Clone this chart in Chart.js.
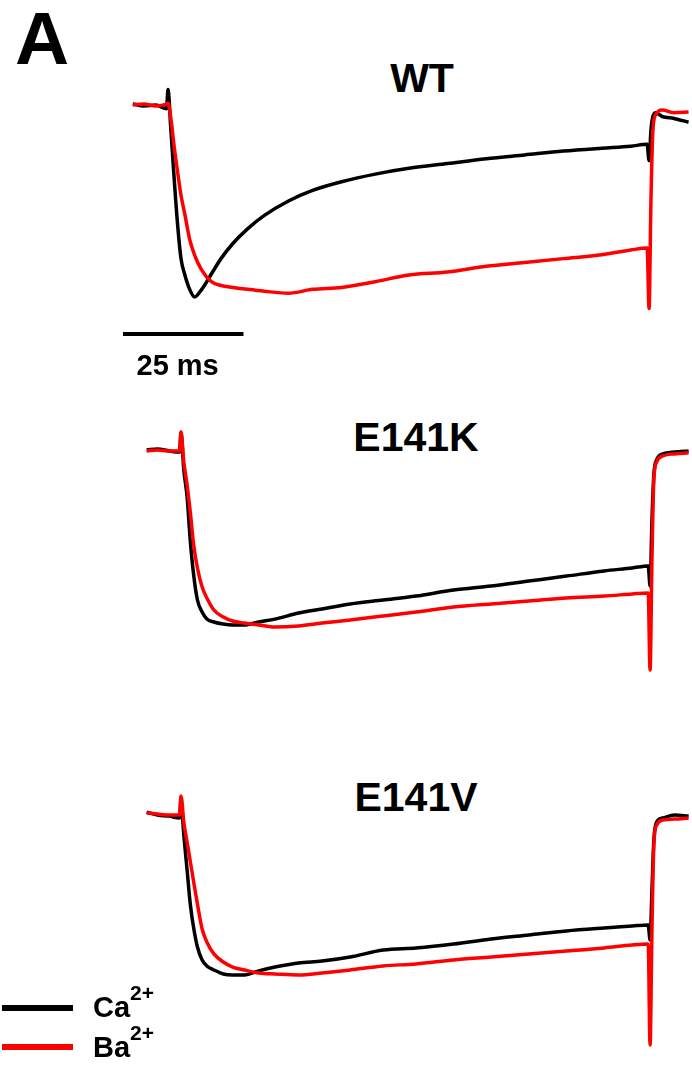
<!DOCTYPE html>
<html>
<head>
<meta charset="utf-8">
<script src="https://cdn.jsdelivr.net/npm/chart.js@4/dist/chart.umd.min.js"></script>
<style>
  body { margin: 0; background: #fff; }
  #page { position: relative; width: 692px; height: 1066px; overflow: hidden; font-family: Arial, 'Liberation Sans', sans-serif; font-weight: bold; }
  canvas { position: absolute; }
  .lbl { position: absolute; line-height: 1; white-space: nowrap; color: #000; }
  .title { font-size: 41px; transform: translateX(-50%); }
  .key { position: absolute; left: 2px; width: 71px; height: 6px; }
  .keytxt { position: absolute; left: 93px; font-size: 29px; line-height: 1; }
  .keytxt sup { font-size: 21px; vertical-align: 0; position: relative; top: -17px; }
</style>
</head>
<body>
<div id="page">
  <div class="lbl" style="left:15px;top:1px;font-size:75px;">A</div>
  <div class="lbl title" style="left:422px;top:58px;">WT</div>
  <div class="lbl title" style="left:416px;top:417px;">E141K</div>
  <div class="lbl title" style="left:416px;top:777px;">E141V</div>

  <canvas id="wt" width="582" height="310" style="left:110px;top:80px;"></canvas>
  <canvas id="k" width="552" height="270" style="left:140px;top:420px;"></canvas>
  <canvas id="v" width="552" height="280" style="left:140px;top:780px;"></canvas>

  <div class="key" style="top:1005px;background:#000;"></div>
  <div class="keytxt" style="top:993px;">Ca<sup>2+</sup></div>
  <div class="key" style="top:1044px;background:#f00;"></div>
  <div class="keytxt" style="top:1033px;">Ba<sup>2+</sup></div>
</div>
<script>
// time in ms, 0 = start of the test pulse (pulse is 100 ms)
const timeMs = [-7.3, -5, -2.5, -0.3, 0, 0.6, 1.3, 2, 2.7, 3.5, 4.5, 5.5, 7, 9, 11, 13.5, 16.5, 20, 25, 30,
  36, 43, 50, 58, 66, 74, 82, 90, 96, 99.4, 99.8, 100.2, 100.6, 101.2, 102.5, 105, 108]

// normalized current (peak Ca2+ current = -1)
const wtCa = [0.005, -0.005, 0, -0.02, 0.08, -0.13, -0.39, -0.625, -0.8, -0.885, -0.96, -1.0, -0.96, -0.88, -0.8, -0.72, -0.645, -0.575, -0.5, -0.445,
  -0.4, -0.36, -0.33, -0.305, -0.28, -0.26, -0.24, -0.225, -0.215, -0.205, -0.29, -0.13, -0.06, -0.04, -0.06, -0.07, -0.09]
const wtBa = [0, 0.005, -0.005, 0.005, 0.01, -0.07, -0.22, -0.35, -0.47, -0.57, -0.7, -0.78, -0.86, -0.92, -0.94, -0.95, -0.96, -0.97, -0.98, -0.96,
  -0.95, -0.92, -0.885, -0.87, -0.84, -0.82, -0.8, -0.78, -0.755, -0.745, -1.06, -0.49, -0.13, -0.05, -0.026, -0.04, -0.036]

const e141kCa = [0, 0.006, -0.006, -0.012, 0.099, -0.116, -0.273, -0.535, -0.727, -0.872, -0.942, -0.983, -1.0, -1.012, -1.017, -1.017, -1.0, -0.983, -0.948, -0.924,
  -0.895, -0.872, -0.849, -0.814, -0.791, -0.762, -0.733, -0.703, -0.686, -0.674, -0.79, -0.41, -0.145, -0.058, -0.023, -0.012, -0.006]
const e141kBa = [-0.006, 0, -0.006, -0.006, 0.105, -0.07, -0.203, -0.366, -0.552, -0.686, -0.797, -0.86, -0.93, -0.971, -0.994, -1.006, -1.017, -1.029, -1.023, -1.006,
  -0.988, -0.965, -0.942, -0.913, -0.895, -0.878, -0.86, -0.849, -0.837, -0.831, -1.279, -0.64, -0.174, -0.07, -0.035, -0.023, -0.017]

const e141vCa = [0.006, -0.012, -0.019, -0.031, 0.08, -0.136, -0.352, -0.568, -0.71, -0.827, -0.907, -0.944, -0.969, -0.994, -1.0, -1.0, -0.975, -0.951, -0.926, -0.914,
  -0.889, -0.846, -0.833, -0.809, -0.778, -0.753, -0.728, -0.71, -0.698, -0.691, -0.784, -0.475, -0.167, -0.056, -0.031, -0.012, -0.019]
const e141vBa = [0, -0.006, -0.012, -0.012, 0.105, -0.056, -0.179, -0.302, -0.426, -0.562, -0.716, -0.796, -0.87, -0.92, -0.951, -0.969, -0.988, -0.994, -1.0, -0.988,
  -0.969, -0.944, -0.932, -0.907, -0.889, -0.87, -0.852, -0.833, -0.815, -0.809, -1.432, -0.722, -0.198, -0.074, -0.043, -0.037, -0.031]

const scaleBarMs = 25
const scaleBarLabel = '25 ms'

function pts(vals) {
  return vals.map(function (v, i) { return { x: timeMs[i], y: v } })
}

// draws the 25 ms bar under the WT traces, using the chart's x scale
const scaleBar = {
  id: 'scaleBar',
  afterDraw: function (chart) {
    var xs = chart.scales.x, ys = chart.scales.y
    var x0 = xs.getPixelForValue(-9.34)
    var x1 = xs.getPixelForValue(-9.34 + scaleBarMs)
    var y = ys.getPixelForValue(-1.193)
    var ctx = chart.ctx
    ctx.save()
    ctx.strokeStyle = '#000'
    ctx.lineWidth = 4
    ctx.beginPath()
    ctx.moveTo(x0, y)
    ctx.lineTo(x1, y)
    ctx.stroke()
    ctx.fillStyle = '#000'
    ctx.font = 'bold 29px Arial, "Liberation Sans", sans-serif'
    ctx.textAlign = 'center'
    ctx.textBaseline = 'middle'
    ctx.fillText(scaleBarLabel, xs.getPixelForValue(2.0), ys.getPixelForValue(-1.365))
    ctx.restore()
  },
}

function makeChart(id, ca, ba, xr, yr, plugins) {
  return new Chart(document.getElementById(id).getContext('2d'), {
    type: 'line',
    data: {
      datasets: [
        { label: 'Ba2+', data: pts(ba), borderColor: '#ff0000', borderWidth: 3.5 },
        { label: 'Ca2+', data: pts(ca), borderColor: '#000000', borderWidth: 3.5 },
      ],
    },
    options: {
      responsive: false,
      animation: false,
      devicePixelRatio: 1,
      layout: { padding: 0 },
      elements: { point: { radius: 0 }, line: { cubicInterpolationMode: 'monotone' } },
      plugins: { legend: { display: false }, tooltip: { enabled: false } },
      scales: {
        x: { type: 'linear', min: xr[0], max: xr[1], display: false },
        y: { min: yr[0], max: yr[1], display: false },
      },
    },
    plugins: plugins || [],
  })
}

var chartWT = makeChart('wt', wtCa, wtBa, [-12.03, 108.71], [-1.484, 0.130], [scaleBar])
var chartK = makeChart('k', e141kCa, e141kBa, [-8.72, 108.72], [-1.395, 0.174])
var chartV = makeChart('v', e141vCa, e141vBa, [-8.72, 108.72], [-1.525, 0.204])
</script>
</body>
</html>
